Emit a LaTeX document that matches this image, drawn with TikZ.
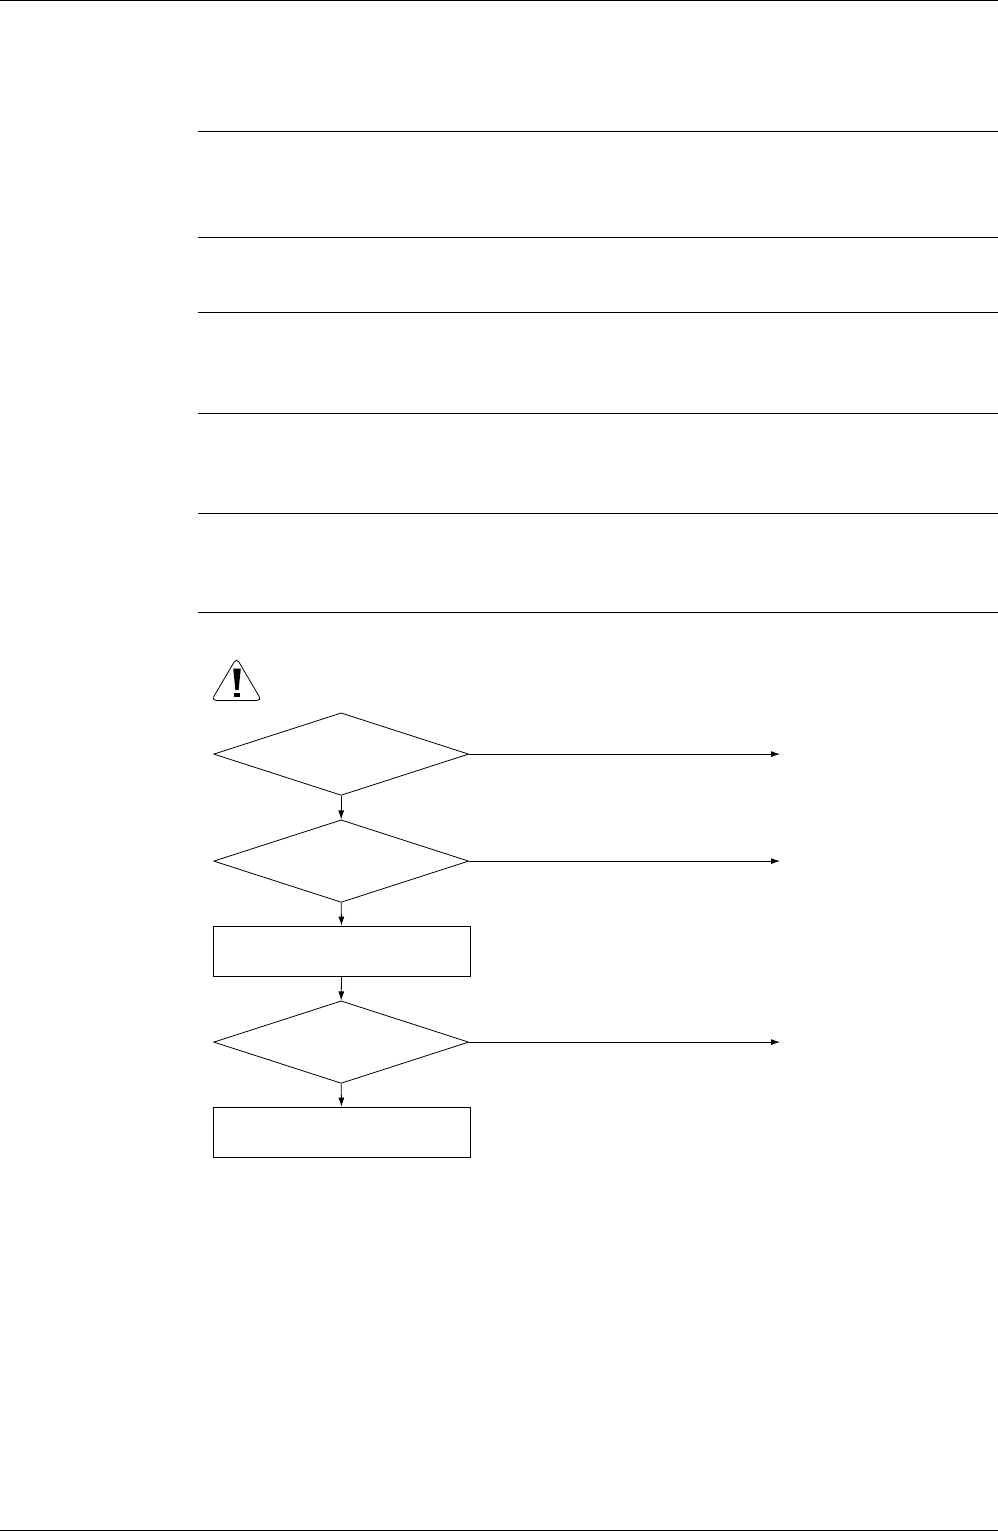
\documentclass[tikz,border=0pt]{standalone}
\usetikzlibrary{shapes.geometric,arrows.meta}
\tikzset{
  x=1pt,y=-1pt,
  rulepage/.style={line width=1pt,black},
  decision/.style={draw,shape=diamond,line width=0.8pt,inner sep=0pt,minimum width=255pt,minimum height=82.5pt,aspect=3.1},
  actionbox/.style={draw,rectangle,line width=0.8pt,inner sep=0pt,minimum width=257pt,minimum height=50pt},
  flow/.style={line width=0.8pt,-{Latex[length=9pt,width=6pt]}}
}
\begin{document}
\begin{tikzpicture}
\useasboundingbox (0,0) rectangle (998,1531);
\fill[white] (0,0) rectangle (998,1531);
% page rules
\draw[rulepage] (0,0.5) -- (998,0.5);
\draw[rulepage] (0,1530.5) -- (998,1530.5);
\foreach \yy in {131,237,312,413,513,612}
  \draw[rulepage] (198,\yy+0.5) -- (998,\yy+0.5);
% warning sign
\draw[line width=0.8pt,rounded corners=4.5pt,line join=round]
  (236.5,658) -- (261.5,700.4) -- (211.5,700.4) -- cycle;
\fill[black] (233.2,668.5) -- (240.8,668.5) -- (238.6,690) -- (235.4,690) -- cycle;
\fill[black] (233.8,692.5) rectangle (240,696.8);
% flowchart nodes
\node[decision] (d1) at (341.2,754.1) {};
\node[decision] (d2) at (341.2,861.1) {};
\node[actionbox] (b1) at (341.5,951) {};
\node[decision] (d3) at (341.2,1042.1) {};
\node[actionbox] (b2) at (341.5,1132) {};
\coordinate (e1) at (780,754.1);
\coordinate (e2) at (780,861.1);
\coordinate (e3) at (780,1042.1);
% connectors
\draw[flow] (d1.south) -- (d2.north);
\draw[flow] (d2.south) -- (b1.north);
\draw[flow] (b1.south) -- (d3.north);
\draw[flow] (d3.south) -- (b2.north);
\draw[flow] (d1.east) -- (e1);
\draw[flow] (d2.east) -- (e2);
\draw[flow] (d3.east) -- (e3);
\end{tikzpicture}
\end{document}
